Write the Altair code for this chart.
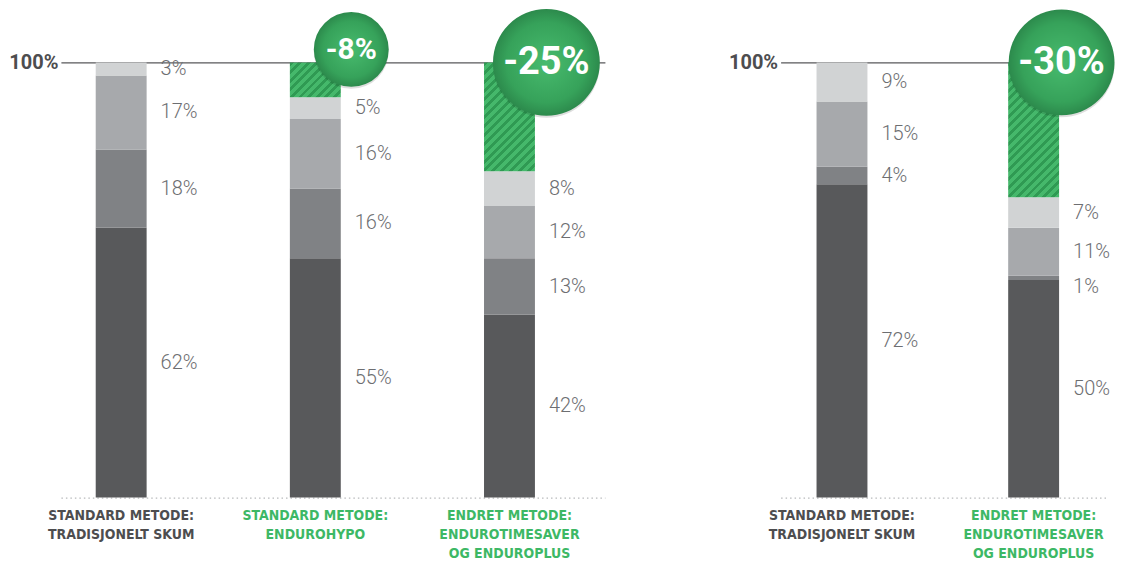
import altair as alt
import pandas as pd

# ---------------- data ----------------
left_categories = [
    "STANDARD METODE:|TRADISJONELT SKUM",
    "STANDARD METODE:|ENDUROHYPO",
    "ENDRET METODE:|ENDUROTIMESAVER|OG ENDUROPLUS",
]
right_categories = [
    "STANDARD METODE:|TRADISJONELT SKUM",
    "ENDRET METODE:|ENDUROTIMESAVER|OG ENDUROPLUS",
]
# segments, bottom to top
left_seg1 = [62, 55, 42]
left_seg2 = [18, 16, 13]
left_seg3 = [17, 16, 12]
left_seg4 = [3, 5, 8]
left_reduction = [None, 8, 25]

right_seg1 = [72, 50]
right_seg2 = [4, 1]
right_seg3 = [15, 11]
right_seg4 = [9, 7]
right_reduction = [None, 30]

# ---------------- style ----------------
SEG_COLORS = ["#58595b", "#808285", "#a7a9ac", "#d1d3d4"]
GREEN_LIGHT = "#45b86b"
GREEN_DARK = "#2f9a53"
LABEL_GRAY = "#6d6e71"
AXIS_DARK = "#4d4d4f"
CAT_GREEN = "#3db865"
PLOT_H = 436
BAR_W = 51
LABEL_FONT = "Roboto"
CAT_FONT = "Liberation Sans Narrow, DejaVu Sans Condensed, Roboto"
# badge style per panel/bar: diameter, x offset, y offset, font size
LEFT_BADGE = {1: dict(d=75, dx=36, yoff=-13, font=30), 2: dict(d=107, dx=37, yoff=0, font=38)}
RIGHT_BADGE = {1: dict(d=106, dx=28, yoff=0, font=38)}
LABEL_GAP = 8  # minimum distance between value labels (in % units)


def stripe_gradient(w, h, period=9.0, duty=0.45):
    s = (w + h) / (w ** 2 + h ** 2)
    n = max(1, int(round((w + h) / period)))
    stops = []
    for i in range(n):
        a = i / n
        b = (i + duty) / n
        c = (i + 1) / n
        stops += [
            alt.GradientStop(offset=a, color=GREEN_DARK),
            alt.GradientStop(offset=b, color=GREEN_DARK),
            alt.GradientStop(offset=b, color=GREEN_LIGHT),
            alt.GradientStop(offset=c, color=GREEN_LIGHT),
        ]
    return alt.Gradient(gradient="linear", stops=stops, x1=0, y1=0, x2=s * w, y2=s * h)


BADGE_FILL = alt.Gradient(
    gradient="radial",
    stops=[
        alt.GradientStop(offset=0, color="#48bb6e"),
        alt.GradientStop(offset=0.75, color="#36a25a"),
        alt.GradientStop(offset=1, color="#2c8a4c"),
    ],
    x1=0.5, y1=0.5, r1=0, x2=0.5, y2=0.5, r2=0.5,
)


def build_frames(cats, segs):
    rows, labels = [], []
    for i, c in enumerate(cats):
        vals = [s[i] for s in segs]
        y0 = 0
        mids = []
        for k, v in enumerate(vals):
            rows.append(dict(cat=c, y0=y0, y1=y0 + v, color=SEG_COLORS[k]))
            mids.append((y0 + v / 2, f"{v}%"))
            y0 += v
        prev = None
        for m, t in reversed(mids):
            y = m if prev is None else min(m, prev - LABEL_GAP)
            labels.append(dict(cat=c, y=y, text=t))
            prev = y
    return pd.DataFrame(rows), pd.DataFrame(labels)


XAXIS = alt.Axis(
    title=None, ticks=False, labelAngle=0, grid=False,
    labelExpr="split(datum.value, '|')",
    labelFont=CAT_FONT, labelFontSize=14, labelFontWeight="bold",
    labelLineHeight=19, labelPadding=11, labelLimit=300,
    labelColor={"condition": {"test": "indexof(datum.value, 'TRADISJONELT') >= 0", "value": AXIS_DARK},
                "value": CAT_GREEN},
    domain=True, domainColor="#b8babc", domainDash=[1.5, 3], domainWidth=1.2,
)
YAXIS = alt.Axis(
    title=None, values=[100], labelExpr="'100%'", ticks=False, domain=False,
    grid=True, gridColor="#58595b", gridWidth=1.3,
    labelFont=LABEL_FONT, labelFontWeight="bold", labelFontSize=20,
    labelColor=AXIS_DARK, labelPadding=3,
)


def panel(cats, segs, reduction, badges, width, pad_inner, pad_outer, align):
    seg_df, lab_df = build_frames(cats, segs)
    xscale = alt.Scale(domain=cats, paddingInner=pad_inner, paddingOuter=pad_outer,
                       align=align, round=False)
    yscale = alt.Scale(domain=[0, 100], nice=False, zero=True)

    def X():
        return alt.X("cat:N", scale=xscale, axis=XAXIS, title=None)

    def Y(field):
        return alt.Y(field, scale=yscale, axis=YAXIS, title=None)

    bars = alt.Chart(seg_df).mark_bar(width=BAR_W).encode(
        x=X(), y=Y("y0:Q"), y2="y1:Q",
        fill=alt.Fill("color:N", scale=None),
    )
    layers = [bars]

    totals = [sum(s[i] for s in segs) for i in range(len(cats))]
    for i, c in enumerate(cats):
        if reduction[i] is None:
            continue
        h = (100 - totals[i]) * PLOT_H / 100
        hdf = pd.DataFrame([dict(cat=c, y0=totals[i], y1=100)])
        layers.append(
            alt.Chart(hdf).mark_bar(width=BAR_W, fill=stripe_gradient(BAR_W, h)).encode(
                x=X(), y=Y("y0:Q"), y2="y1:Q"
            )
        )

    layers.append(
        alt.Chart(lab_df).mark_text(
            align="left", baseline="middle", dx=BAR_W / 2 + 14,
            font=LABEL_FONT, fontWeight=300, fontSize=20, color=LABEL_GRAY,
        ).encode(x=X(), y=Y("y:Q"), text="text:N")
    )

    for i, c in enumerate(cats):
        r = reduction[i]
        if r is None:
            continue
        st = badges[i]
        bdf = pd.DataFrame([dict(cat=c, y=100, text=f"-{r}%")])
        layers.append(
            alt.Chart(bdf).mark_point(
                shape="circle", filled=True, size=st["d"] ** 2, color="#000000",
                opacity=0.13, strokeWidth=0, xOffset=st["dx"], yOffset=st["yoff"] + 2,
            ).encode(x=X(), y=Y("y:Q"))
        )
        layers.append(
            alt.Chart(bdf).mark_point(
                shape="circle", filled=True, size=st["d"] ** 2, fill=BADGE_FILL,
                opacity=1, strokeWidth=0, xOffset=st["dx"], yOffset=st["yoff"],
            ).encode(x=X(), y=Y("y:Q"))
        )
        layers.append(
            alt.Chart(bdf).mark_text(
                font="Roboto", fontWeight="bold", fontSize=st["font"], color="white",
                align="center", baseline="middle", dx=st["dx"], dy=st["yoff"] + 1,
            ).encode(x=X(), y=Y("y:Q"), text="text:N")
        )

    return alt.layer(*layers).properties(width=width, height=PLOT_H)


left = panel(left_categories, [left_seg1, left_seg2, left_seg3, left_seg4], left_reduction,
             LEFT_BADGE, 545, 0.5, 0.151, 0.2)
right = panel(right_categories, [right_seg1, right_seg2, right_seg3, right_seg4], right_reduction,
              RIGHT_BADGE, 327, 0.5, 0.1016, 0.346)

chart = (
    alt.hconcat(left, right, spacing=123)
    .resolve_scale(x="independent", y="independent")
    .properties(padding={"left": 0, "top": 0, "right": 0, "bottom": 0})
    .configure(background="white")
    .configure_view(stroke="transparent", strokeWidth=0)
)

chart.save("out.html", embed_options={"renderer": "svg", "actions": False})
